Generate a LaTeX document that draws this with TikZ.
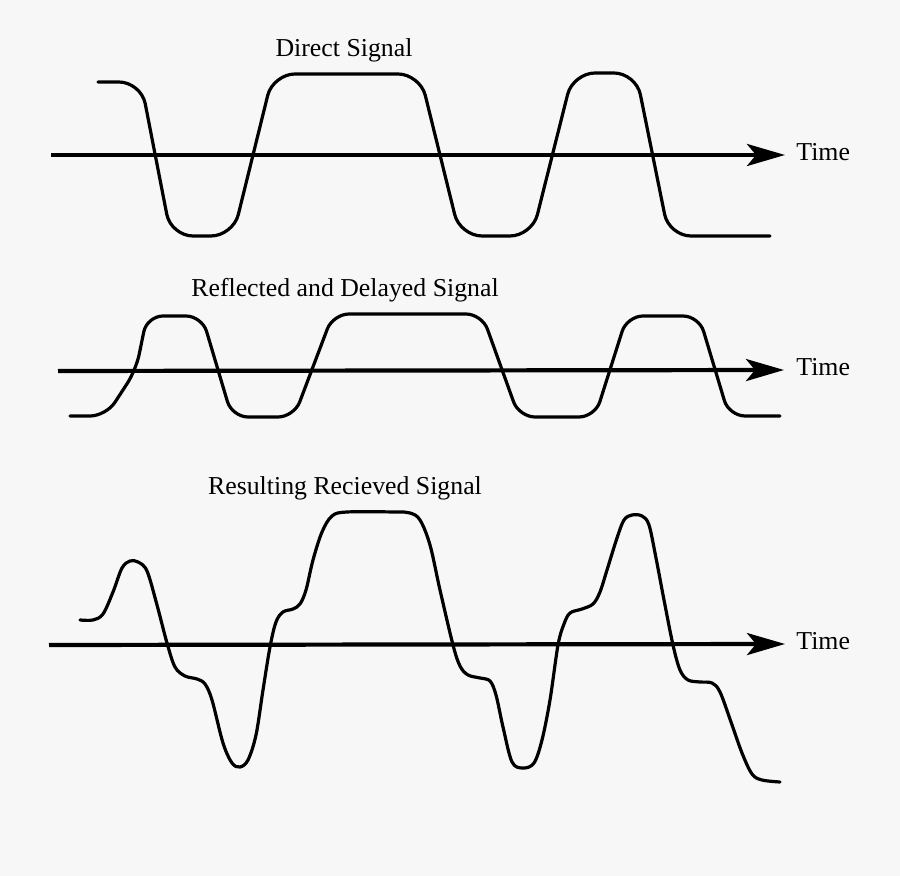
\documentclass[tikz,border=0pt]{standalone}
\usepackage{fontspec}
\setmainfont{Liberation Serif}
\usetikzlibrary{arrows.meta}
\definecolor{bg}{HTML}{F7F7F7}
\tikzset{
  axisline/.style={line width=2.1pt,-{Stealth[length=19pt,width=11pt,inset=4.5pt]}},
  sig/.style={line width=1.6pt,line join=round,line cap=round},
  title/.style={anchor=base,inner sep=0pt,font=\fontsize{12.9}{15}\selectfont},
  timelbl/.style={anchor=base west,inner sep=0pt,font=\fontsize{12.9}{15}\selectfont}
}
\begin{document}
\begin{tikzpicture}[x=0.5pt,y=-0.5pt]
\fill[bg] (0,0) rectangle (900,876);
\useasboundingbox (0,0) rectangle (900,876);

% titles
\node[title] (t1) at (344,57) {Direct Signal};
\node[title] (t2) at (345,297) {Reflected and Delayed Signal};
\node[title] (t3) at (345,495) {Resulting Recieved Signal};

% time labels
\node[timelbl] (l1) at (796,161) {Time};
\node[timelbl] (l2) at (796,376) {Time};
\node[timelbl] (l3) at (796,650) {Time};

% axes
\coordinate (a1s) at (51,155);  \coordinate (a1e) at (785,155);
\coordinate (a2s) at (58,371);  \coordinate (a2e) at (784,370);
\coordinate (a3s) at (49,645);  \coordinate (a3e) at (785,644);
\draw[axisline] (a1s) -- (a1e);
\draw[axisline] (a2s) -- (a2e);
\draw[axisline] (a3s) -- (a3e);

% direct signal
\draw[sig,rounded corners=11pt] (98,82) -- (141,82) -- (171,236) -- (233,236) -- (273,74)
  -- (420,74) -- (460,236) -- (532,236) -- (573,73) -- (636,73) -- (669,236) -- (770,236);

% reflected and delayed signal
\draw[sig,rounded corners=8pt] (70,416) -- (106,416) -- (136,370) -- (147,316) -- (202,316)
  -- (232,417) -- (294,417) -- (333,314) -- (482,314) -- (519,417) -- (595,417)
  -- (627,316) -- (699,316) -- (729,416) -- (780,416);

% resulting received signal
\draw[sig] plot[smooth,tension=0.55] coordinates {
 (80,620) (93,620) (103,614) (113,592) (122,568) (130,561) (138,562) (147,571)
 (157,605) (167,643) (175,667) (185,676) (197,679) (205,684) (212,700) (223,743)
 (232,763) (240,767) (248,760) (256,735) (263,690) (270,647) (276,622) (283,612)
 (293,609) (300,604) (306,590) (313,560) (322,532) (332,516) (347,512) (395,512)
 (410,513) (420,520) (430,545) (440,590) (453,645) (460,666) (468,675) (480,678)
 (490,681) (496,695) (503,727) (512,762) (523,768) (534,763) (542,740) (550,700)
 (558,645) (564,624) (570,613) (582,609) (593,604) (600,592) (607,570) (617,538)
 (624,520) (632,515) (642,516) (649,525) (656,558) (664,600) (673,645) (680,670)
 (688,680) (700,682) (712,683) (720,692) (731,722) (742,753) (752,774) (762,780)
 (780,782)};
\end{tikzpicture}
\end{document}
